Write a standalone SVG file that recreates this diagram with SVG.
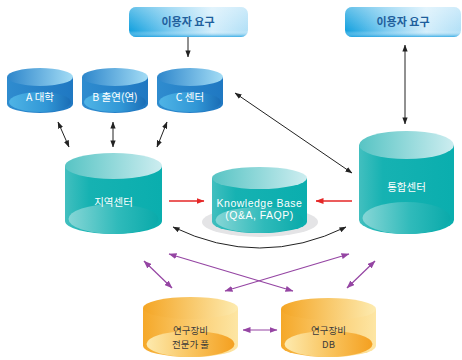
<svg xmlns="http://www.w3.org/2000/svg" width="462" height="360" viewBox="0 0 462 360">
<style>
.k{font-family:"Noto Sans CJK KR","Noto Sans",sans-serif;font-size:10.5px;fill:#fff;text-anchor:middle}
.ko{font-family:"Noto Sans CJK KR","Noto Sans",sans-serif;font-size:9.5px;fill:#3a3a3a;text-anchor:middle}
.kb{font-family:"Liberation Sans","Noto Sans CJK KR",sans-serif;font-size:10.5px;fill:#fff;text-anchor:middle;letter-spacing:0.5px}
.u{font-family:"Noto Sans CJK KR","Noto Sans",sans-serif;font-size:11px;font-weight:bold;fill:#1f5f9c;text-anchor:middle}
.blk{stroke:#222;stroke-width:1;fill:none}
.red{stroke:#e52626;stroke-width:1.3;fill:none}
.pur{stroke:#9545a3;stroke-width:1.2;fill:none}
</style>
<defs>
<marker id="ab" viewBox="0 0 8 6" refX="7.5" refY="3" markerWidth="7" markerHeight="5.5" markerUnits="userSpaceOnUse" orient="auto-start-reverse"><path d="M0,0 L8,3 L0,6 Z" fill="#222"/></marker>
<marker id="ar" viewBox="0 0 8 6" refX="7.5" refY="3" markerWidth="8" markerHeight="6" markerUnits="userSpaceOnUse" orient="auto-start-reverse"><path d="M0,0 L8,3 L0,6 Z" fill="#e52626"/></marker>
<marker id="ap" viewBox="0 0 8 6" refX="7.5" refY="3" markerWidth="8" markerHeight="6" markerUnits="userSpaceOnUse" orient="auto-start-reverse"><path d="M0,0 L8,3 L0,6 Z" fill="#9545a3"/></marker>
<linearGradient id="gBox" x1="0" y1="0" x2="1" y2="0"><stop offset="0" stop-color="#12a0de"/><stop offset="0.35" stop-color="#7ccbf0"/><stop offset="0.7" stop-color="#d4eefb"/><stop offset="1" stop-color="#b2e0f7"/></linearGradient>
<linearGradient id="gBoxV" x1="0" y1="0" x2="0" y2="1"><stop offset="0" stop-color="#fff" stop-opacity="0.35"/><stop offset="0.8" stop-color="#fff" stop-opacity="0"/><stop offset="1" stop-color="#1a9fe0" stop-opacity="0.8"/></linearGradient>
<linearGradient id="bTop" x1="0" y1="0" x2="1" y2="0"><stop offset="0" stop-color="#2d86cb"/><stop offset="1" stop-color="#a3dcf5"/></linearGradient>
<linearGradient id="bBody" x1="0" y1="0" x2="1" y2="0"><stop offset="0" stop-color="#2f8ccf"/><stop offset="1" stop-color="#1f78c2"/></linearGradient>
<linearGradient id="bRef" x1="0" y1="0" x2="1" y2="0"><stop offset="0" stop-color="#4fb4e6"/><stop offset="0.6" stop-color="#3197d6"/><stop offset="1" stop-color="#1a6db6"/></linearGradient>
<linearGradient id="tTop" x1="0" y1="0" x2="1" y2="0"><stop offset="0" stop-color="#57c4c4"/><stop offset="1" stop-color="#cdedf0"/></linearGradient>
<linearGradient id="tBody" x1="0" y1="0" x2="1" y2="0"><stop offset="0" stop-color="#42bfbf"/><stop offset="0.25" stop-color="#16b2b2"/><stop offset="1" stop-color="#0aaeae"/></linearGradient>
<linearGradient id="tRef" x1="0" y1="0" x2="1" y2="0"><stop offset="0" stop-color="#86d6d6"/><stop offset="0.55" stop-color="#2fbaba"/><stop offset="1" stop-color="#0aaaaa"/></linearGradient>
<linearGradient id="oTop" x1="0" y1="0" x2="1" y2="0"><stop offset="0" stop-color="#f4a524"/><stop offset="1" stop-color="#fdebb0"/></linearGradient>
<linearGradient id="oBody" x1="0" y1="0" x2="1" y2="0"><stop offset="0" stop-color="#f5a829"/><stop offset="0.6" stop-color="#fbd17a"/><stop offset="1" stop-color="#fde6a4"/></linearGradient>
<linearGradient id="oRef" x1="0" y1="0" x2="1" y2="0"><stop offset="0" stop-color="#fdeaae"/><stop offset="0.5" stop-color="#f9c560"/><stop offset="1" stop-color="#f4a020"/></linearGradient>
</defs>

<g id="user1">
<rect x="129" y="7" width="119" height="30" rx="7" fill="url(#gBox)"/>
<rect x="129" y="7" width="119" height="30" rx="7" fill="url(#gBoxV)"/>
<text class="u" x="188" y="26">이용자 요구</text>
</g>
<g id="user2">
<rect x="345" y="7" width="116" height="30" rx="7" fill="url(#gBox)"/>
<rect x="345" y="7" width="116" height="30" rx="7" fill="url(#gBoxV)"/>
<text class="u" x="403" y="26">이용자 요구</text>
</g>

<g id="cylA">
<path d="M7,77 L7,104 A33,9 0 0 0 73,104 L73,77 Z" fill="url(#bBody)"/>
<ellipse cx="40" cy="102" rx="31" ry="10" fill="url(#bRef)"/>
<ellipse cx="40" cy="77" rx="33" ry="9" fill="url(#bTop)"/>
<text class="k" x="40" y="101">A 대학</text>
</g>
<g id="cylB">
<path d="M82,77 L82,104 A33,9 0 0 0 148,104 L148,77 Z" fill="url(#bBody)"/>
<ellipse cx="115" cy="102" rx="31" ry="10" fill="url(#bRef)"/>
<ellipse cx="115" cy="77" rx="33" ry="9" fill="url(#bTop)"/>
<text class="k" x="115" y="101">B 출연(연)</text>
</g>
<g id="cylC">
<path d="M157,77 L157,104 A33,9 0 0 0 223,104 L223,77 Z" fill="url(#bBody)"/>
<ellipse cx="190" cy="102" rx="31" ry="10" fill="url(#bRef)"/>
<ellipse cx="190" cy="77" rx="33" ry="9" fill="url(#bTop)"/>
<text class="k" x="190" y="101">C 센터</text>
</g>

<g id="regional">
<path d="M65,166 L65,221 A48.5,13 0 0 0 162,221 L162,166 Z" fill="url(#tBody)"/>
<ellipse cx="113.5" cy="219" rx="45" ry="15" fill="url(#tRef)"/>
<ellipse cx="113.5" cy="166" rx="48.5" ry="13" fill="url(#tTop)"/>
<text class="k" x="113.5" y="206">지역센터</text>
</g>

<g id="kb">
<ellipse cx="260" cy="222" rx="58" ry="15" fill="#e4e4e6"/>
<path d="M212,178 L212,222 A47.5,11 0 0 0 307,222 L307,178 Z" fill="url(#tBody)"/>
<ellipse cx="259.5" cy="220" rx="44" ry="13" fill="url(#tRef)"/>
<ellipse cx="259.5" cy="178" rx="47.5" ry="11" fill="url(#tTop)"/>
<text class="kb" x="259.5" y="206.5">Knowledge Base</text>
<text class="kb" x="259.5" y="218.5">(Q&amp;A, FAQP)</text>
</g>

<g id="integrated">
<path d="M359,145 L359,220 A47.5,14 0 0 0 454,220 L454,145 Z" fill="url(#tBody)"/>
<ellipse cx="406.5" cy="218" rx="44" ry="16" fill="url(#tRef)"/>
<ellipse cx="406.5" cy="145" rx="47.5" ry="14" fill="url(#tTop)"/>
<text class="k" x="406.5" y="191">통합센터</text>
</g>

<g id="expert">
<path d="M143,308 L143,346 A47.5,11 0 0 0 238,346 L238,308 Z" fill="url(#oBody)"/>
<ellipse cx="190.5" cy="344" rx="44" ry="13" fill="url(#oRef)"/>
<ellipse cx="190.5" cy="308" rx="47.5" ry="11" fill="url(#oTop)"/>
<text class="ko" x="190.5" y="334">연구장비</text>
<text class="ko" x="190.5" y="348">전문가 풀</text>
</g>
<g id="equipdb">
<path d="M281,309 L281,346 A47.5,11 0 0 0 376,346 L376,309 Z" fill="url(#oBody)"/>
<ellipse cx="328.5" cy="344" rx="44" ry="13" fill="url(#oRef)"/>
<ellipse cx="328.5" cy="309" rx="47.5" ry="11" fill="url(#oTop)"/>
<text class="ko" x="328.5" y="334">연구장비</text>
<text class="ko" x="328.5" y="348">DB</text>
</g>

<g id="connectors">
<line class="blk" x1="188" y1="37" x2="188" y2="57" marker-end="url(#ab)"/>
<line class="blk" x1="405" y1="45" x2="405" y2="124" marker-start="url(#ab)" marker-end="url(#ab)"/>
<line class="blk" x1="58" y1="122" x2="69" y2="147" marker-start="url(#ab)" marker-end="url(#ab)"/>
<line class="blk" x1="113" y1="122" x2="113" y2="147" stroke="#555" marker-start="url(#ab)" marker-end="url(#ab)"/>
<line class="blk" x1="167" y1="122" x2="157" y2="147" marker-start="url(#ab)" marker-end="url(#ab)"/>
<line class="blk" x1="235" y1="93" x2="352" y2="173" marker-start="url(#ab)" marker-end="url(#ab)"/>
<line class="red" x1="169" y1="201" x2="204" y2="201" marker-end="url(#ar)"/>
<line class="red" x1="352" y1="201" x2="316" y2="201" marker-end="url(#ar)"/>
<path class="blk" d="M173,227 Q260,269 346,227" marker-start="url(#ab)" marker-end="url(#ab)"/>
<line class="pur" x1="144" y1="261" x2="172" y2="288" marker-start="url(#ap)" marker-end="url(#ap)"/>
<line class="pur" x1="169" y1="254" x2="293" y2="291" marker-start="url(#ap)" marker-end="url(#ap)"/>
<line class="pur" x1="349" y1="254" x2="225" y2="291" marker-start="url(#ap)" marker-end="url(#ap)"/>
<line class="pur" x1="375" y1="261" x2="347" y2="288" marker-start="url(#ap)" marker-end="url(#ap)"/>
<line class="pur" x1="243" y1="330" x2="277" y2="330" marker-start="url(#ap)" marker-end="url(#ap)"/>
</g>
</svg>
